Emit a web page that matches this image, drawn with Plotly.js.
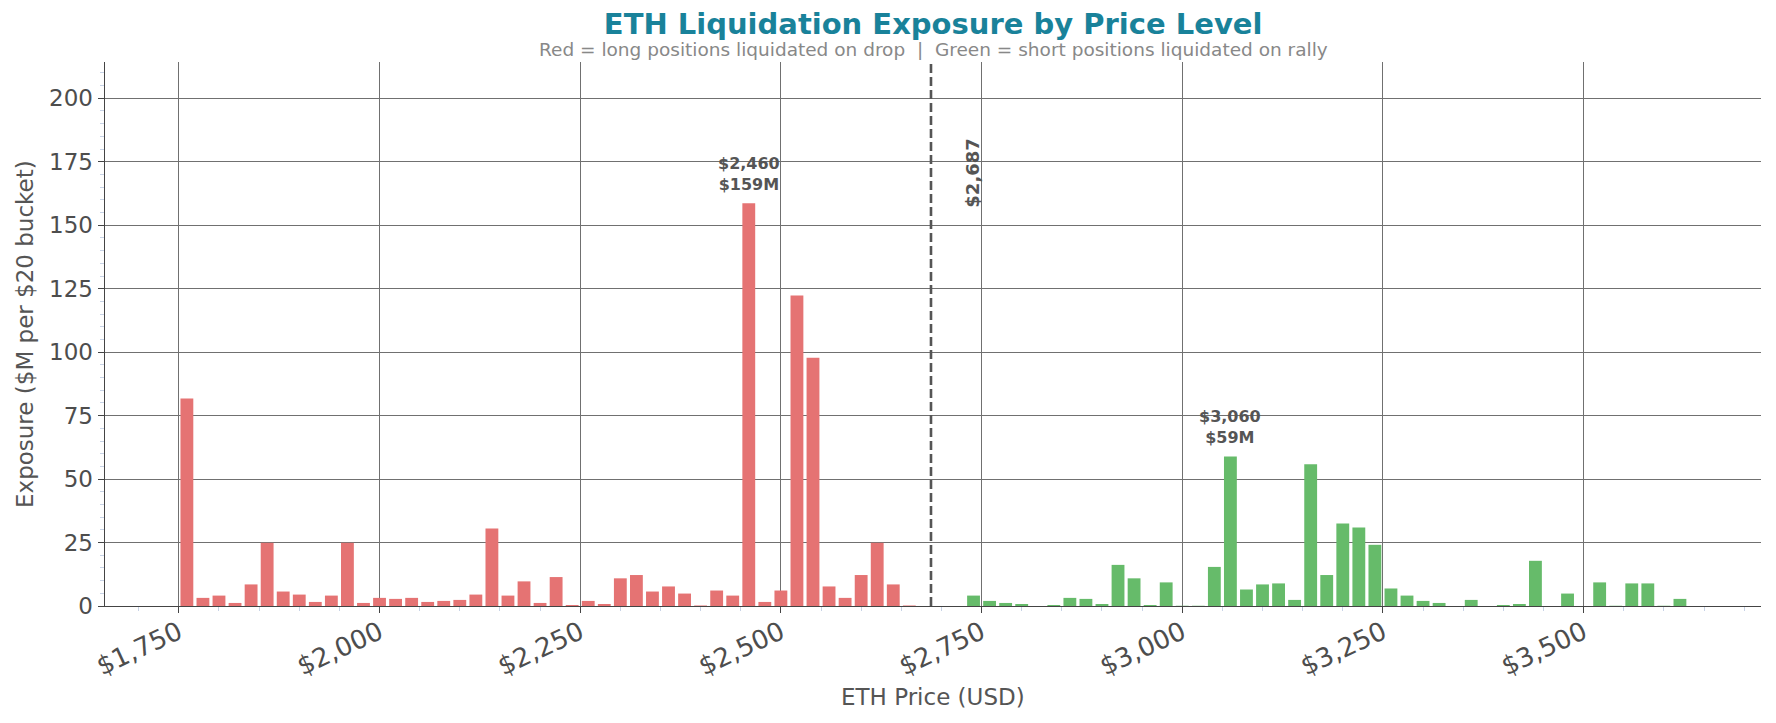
<!DOCTYPE html>
<html>
<head>
<meta charset="utf-8">
<script src="https://cdn.plot.ly/plotly-3.0.1.min.js"></script>
<style>
  html, body { margin: 0; padding: 0; background: #fff; }
  #graphDiv { width: 1776px; height: 723px; }
</style>
</head>
<body>
<div id="graphDiv"></div>
<script>
// $20 buckets below current price (longs get liquidated on the way down)
var longPrices = [1760, 1780, 1800, 1820, 1840, 1860, 1880, 1900, 1920, 1940,
  1960, 1980, 2000, 2020, 2040, 2060, 2080, 2100, 2120, 2140,
  2160, 2180, 2200, 2220, 2240, 2260, 2280, 2300, 2320, 2340,
  2360, 2380, 2400, 2420, 2440, 2460, 2480, 2500, 2520, 2540,
  2560, 2580, 2600, 2620, 2640, 2660];
var longExposure = [81.7, 3.2, 4.1, 1.2, 8.5, 24.9, 5.7, 4.5, 1.6, 4.1,
  24.9, 1.2, 3.2, 2.8, 3.2, 1.6, 2.0, 2.4, 4.5, 30.5,
  4.1, 9.7, 1.2, 11.4, 0.4, 2.0, 0.8, 10.9, 12.2, 5.7,
  7.7, 4.9, 0.2, 6.1, 4.1, 158.7, 1.6, 6.1, 122.3, 97.8,
  7.7, 3.2, 12.2, 24.9, 8.5, 0.2];

// $20 buckets above current price (shorts get liquidated on a rally)
var shortPrices = [2740, 2760, 2780, 2800, 2820, 2840, 2860, 2880, 2900, 2920,
  2940, 2960, 2980, 3000, 3020, 3040, 3060, 3080, 3100, 3120,
  3140, 3160, 3180, 3200, 3220, 3240, 3260, 3280, 3300, 3320,
  3340, 3360, 3380, 3400, 3420, 3440, 3460, 3480, 3500, 3520,
  3540, 3560, 3580, 3600, 3620];
var shortExposure = [4.1, 2.0, 1.2, 0.8, 0, 0.4, 3.2, 2.8, 0.8, 16.2,
  10.9, 0.4, 9.3, 0.1, 0.1, 15.4, 58.9, 6.5, 8.5, 8.9,
  2.4, 55.8, 12.2, 32.5, 30.9, 24.1, 6.9, 4.1, 2.0, 1.2,
  0, 2.4, 0, 0.4, 0.8, 17.8, 0, 4.9, 0, 9.3,
  0.1, 8.9, 8.9, 0.1, 2.8];

var currentPrice = 2687;

var xTickVals = [1750, 2000, 2250, 2500, 2750, 3000, 3250, 3500];
var xTickText = ['$1,750', '$2,000', '$2,250', '$2,500', '$2,750', '$3,000', '$3,250', '$3,500'];
var yTickVals = [0, 25, 50, 75, 100, 125, 150, 175, 200];

var trace1 = {
  type: 'bar',
  name: 'Longs',
  x: longPrices,
  y: longExposure,
  width: 16,
  marker: {color: '#e57373'}
};

var trace2 = {
  type: 'bar',
  name: 'Shorts',
  x: shortPrices,
  y: shortExposure,
  width: 16,
  marker: {color: '#66bb6a'}
};

// label the biggest bucket on each side
function peakNote(prices, vals) {
  var k = 0;
  for (var i = 1; i < vals.length; i++) {
    if (vals[i] > vals[k]) k = i;
  }
  return {
    x: prices[k],
    y: vals[k],
    xref: 'x', yref: 'y',
    text: '$' + prices[k].toLocaleString('en-US') + '<br>$' + Math.round(vals[k]) + 'M',
    showarrow: false,
    yanchor: 'bottom',
    yshift: 7,
    font: {family: 'DejaVu Sans', size: 16, color: '#555555', weight: 'bold'}
  };
}

var gridColor = '#707070';
var tickFont = {family: 'DejaVu Sans', size: 23, color: '#4d4d4d'};
var labelFont = {family: 'DejaVu Sans', size: 23, color: '#555555'};

var layout = {
  width: 1776,
  height: 723,
  margin: {l: 105, r: 15, t: 62, b: 117},
  paper_bgcolor: '#ffffff',
  plot_bgcolor: '#ffffff',
  showlegend: false,
  barmode: 'overlay',
  title: {
    text: '<b>ETH Liquidation Exposure by Price Level</b>',
    font: {family: 'DejaVu Sans', size: 29, color: '#19829a'},
    x: 0.5254, xanchor: 'center',
    y: 0.967, yanchor: 'middle'
  },
  xaxis: {
    range: [1658, 3721],
    tickvals: xTickVals,
    ticktext: xTickText,
    tickangle: -25,
    tickfont: {family: 'DejaVu Sans', size: 26, color: '#4d4d4d'},
    ticklabelstandoff: -6,
    ticks: 'outside',
    ticklen: 6,
    tickcolor: '#444',
    showgrid: true,
    gridcolor: gridColor,
    gridwidth: 1,
    zeroline: false,
    showline: true,
    linecolor: '#444',
    linewidth: 1.4,
    minor: {ticks: 'outside', ticklen: 4, tickcolor: '#c8d3e6', dtick: 50, tick0: 1750, showgrid: false}
  },
  yaxis: {
    range: [0, 214.3],
    tickvals: yTickVals,
    tickfont: tickFont,
    ticks: 'outside',
    ticklen: 6,
    tickcolor: '#444',
    showgrid: true,
    gridcolor: gridColor,
    gridwidth: 1,
    zeroline: false,
    showline: true,
    linecolor: '#444',
    linewidth: 1.4,
    minor: {ticks: 'outside', ticklen: 4, tickcolor: '#c8d3e6', dtick: 5, showgrid: false}
  },
  shapes: [{
    type: 'line',
    xref: 'x', yref: 'paper',
    x0: currentPrice, x1: currentPrice,
    y0: 0, y1: 1,
    line: {color: '#555555', width: 2.6, dash: '9px,4px'}
  }],
  annotations: [
    {
      xref: 'paper', yref: 'paper',
      x: 0.5, y: 1.023,
      xanchor: 'center', yanchor: 'middle',
      text: 'Red = long positions liquidated on drop  |  Green = short positions liquidated on rally',
      showarrow: false,
      font: {family: 'DejaVu Sans', size: 18.5, color: '#888888'}
    },
    {
      // axis titles placed as plain notes so they sit where the reference has them
      xref: 'paper', yref: 'paper',
      x: 0.5, y: -0.1674,
      xanchor: 'center', yanchor: 'middle',
      text: 'ETH Price (USD)',
      showarrow: false,
      font: labelFont
    },
    {
      xref: 'paper', yref: 'paper',
      x: -0.0483, y: 0.5,
      xanchor: 'center', yanchor: 'middle',
      text: 'Exposure ($M per $20 bucket)',
      textangle: -90,
      showarrow: false,
      font: labelFont
    },
    {
      xref: 'x', yref: 'y',
      x: currentPrice, y: 170.7,
      xshift: 42,
      text: '$' + currentPrice.toLocaleString('en-US'),
      textangle: -90,
      showarrow: false,
      font: {family: 'DejaVu Sans', size: 18, color: '#555555', weight: 'bold'}
    },
    peakNote(longPrices, longExposure),
    peakNote(shortPrices, shortExposure)
  ]
};

Plotly.newPlot('graphDiv', [trace1, trace2], layout, {displayModeBar: false, staticPlot: true});
</script>
</body>
</html>
